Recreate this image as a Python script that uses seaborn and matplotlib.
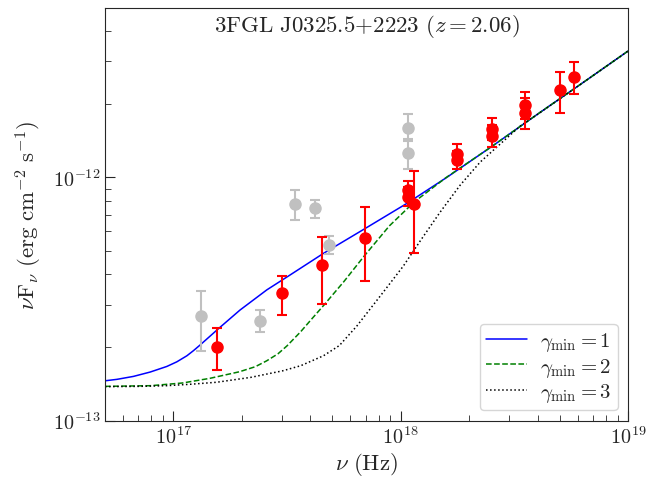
import matplotlib
matplotlib.use("Agg")
import matplotlib.pyplot as plt
from matplotlib.ticker import NullFormatter
import seaborn as sns
import numpy as np

# red points (nu in Hz, nuFnu in erg cm^-2 s^-1), with lower/upper error bar ends
red_nu = [1.56e17, 3.01e17, 4.52e17, 6.97e17, 1.08e18, 1.08e18, 1.14e18, 1.76e18, 1.76e18,
          2.51e18, 2.51e18, 3.52e18, 3.52e18, 5.02e18, 5.78e18]
red_flux = [2.01e-13, 3.34e-13, 4.36e-13, 5.63e-13, 8.89e-13, 8.32e-13, 7.75e-13, 1.255e-12, 1.178e-12,
            1.58e-12, 1.48e-12, 1.98e-12, 1.84e-12, 2.28e-12, 2.60e-12]
red_lo = [1.62e-13, 2.73e-13, 3.02e-13, 3.74e-13, 8.15e-13, 7.60e-13, 4.87e-13, 1.15e-12, 1.08e-12,
          1.43e-12, 1.33e-12, 1.74e-12, 1.59e-12, 1.85e-12, 2.21e-12]
red_hi = [2.40e-13, 3.94e-13, 5.68e-13, 7.57e-13, 9.69e-13, 9.10e-13, 1.06e-12, 1.37e-12, 1.285e-12,
          1.75e-12, 1.64e-12, 2.25e-12, 2.13e-12, 2.71e-12, 2.99e-12]

# grey points
gray_nu = [1.32e17, 2.41e17, 3.42e17, 4.21e17, 4.85e17, 1.08e18, 1.08e18]
gray_flux = [2.69e-13, 2.58e-13, 7.77e-13, 7.46e-13, 5.29e-13, 1.60e-12, 1.26e-12]
gray_lo = [1.94e-13, 2.31e-13, 6.66e-13, 6.79e-13, 4.83e-13, 1.44e-12, 1.08e-12]
gray_hi = [3.40e-13, 2.85e-13, 8.89e-13, 8.09e-13, 5.74e-13, 1.82e-12, 1.41e-12]

# model curves
nu_g1 = [5.0e16, 5.64e16, 6.67e16, 7.90e16, 9.35e16, 1.035e17, 1.146e17, 1.225e17, 1.309e17,
         1.603e17, 1.963e17, 2.576e17, 3.258e17, 4.571e17, 6.966e17, 1.062e18, 1.592e18,
         2.512e18, 3.981e18, 6.310e18, 1.0e19]
f_g1 = [1.459e-13, 1.479e-13, 1.521e-13, 1.585e-13, 1.671e-13, 1.746e-13, 1.849e-13, 1.941e-13, 2.046e-13,
        2.421e-13, 2.851e-13, 3.451e-13, 3.972e-13, 4.875e-13, 6.166e-13, 7.816e-13, 1.0e-12,
        1.340e-12, 1.816e-12, 2.449e-12, 3.311e-12]

nu_g2 = [5.0e16, 7.94e16, 1.096e17, 1.445e17, 1.950e17, 2.291e17, 2.570e17, 2.884e17, 3.162e17,
         3.631e17, 4.074e17, 4.571e17, 5.623e17, 6.918e17, 8.913e17, 1.148e18, 1.349e18, 1.585e18,
         2.512e18, 3.981e18, 6.310e18, 1.0e19]
f_g2 = [1.384e-13, 1.393e-13, 1.429e-13, 1.493e-13, 1.589e-13, 1.667e-13, 1.762e-13, 1.884e-13, 2.032e-13,
        2.323e-13, 2.630e-13, 2.972e-13, 3.733e-13, 4.764e-13, 6.324e-13, 7.943e-13, 8.913e-13, 1.0e-12,
        1.340e-12, 1.816e-12, 2.449e-12, 3.311e-12]

nu_g3 = [5.0e16, 7.08e16, 9.33e16, 1.202e17, 1.549e17, 2.188e17, 3.020e17, 3.631e17, 4.571e17,
         5.370e17, 6.407e17, 8.386e17, 1.027e18, 1.216e18, 1.489e18, 1.824e18, 2.234e18, 2.735e18,
         3.350e18, 4.102e18, 6.310e18, 1.0e19]
f_g3 = [1.380e-13, 1.384e-13, 1.393e-13, 1.413e-13, 1.439e-13, 1.507e-13, 1.603e-13, 1.683e-13, 1.849e-13,
        2.037e-13, 2.449e-13, 3.381e-13, 4.325e-13, 5.470e-13, 7.194e-13, 9.290e-13, 1.156e-12, 1.371e-12,
        1.626e-12, 1.849e-12, 2.449e-12, 3.311e-12]

x_ticks = [1e17, 1e18, 1e19]
x_ticklabels = [r'$10^{17}$', r'$10^{18}$', r'$10^{19}$']
y_ticks = [1e-13, 1e-12]
y_ticklabels = [r'$10^{-13}$', r'$10^{-12}$']

title = r'$\mathrm{3FGL\ J0325.5{+}2223\ (}z = 2.06\mathrm{)}$'

sns.set_style("ticks")
plt.rcParams['mathtext.fontset'] = 'cm'
plt.rcParams['font.family'] = ['DejaVu Serif']

fig = plt.figure(figsize=(6.51, 4.81), dpi=100)
ax = fig.add_axes([0.1613, 0.1233, 0.8034, 0.859])
ax.set_xscale('log')
ax.set_yscale('log')

sns.lineplot(x=nu_g1, y=f_g1, ax=ax, color='blue', lw=1.1, estimator=None, sort=False,
             label=r'$\gamma_{\rm min} = 1$')
sns.lineplot(x=nu_g2, y=f_g2, ax=ax, color='green', lw=1.1, estimator=None, sort=False,
             linestyle='--', label=r'$\gamma_{\rm min} = 2$')
sns.lineplot(x=nu_g3, y=f_g3, ax=ax, color='black', lw=1.1, estimator=None, sort=False,
             linestyle=':', label=r'$\gamma_{\rm min} = 3$')

gf = np.array(gray_flux)
ax.errorbar(gray_nu, gf, yerr=[gf - np.array(gray_lo), np.array(gray_hi) - gf], fmt='o',
            color='silver', ms=8, capsize=3.3, elinewidth=1.5, capthick=1.5, zorder=3)
rf = np.array(red_flux)
ax.errorbar(red_nu, rf, yerr=[rf - np.array(red_lo), np.array(red_hi) - rf], fmt='o',
            color='red', ms=8, capsize=3.3, elinewidth=1.5, capthick=1.5, zorder=4)

ax.set_xlim(5e16, 1e19)
ax.set_ylim(1e-13, 5e-12)
ax.set_xticks(x_ticks, labels=x_ticklabels)
ax.set_yticks(y_ticks, labels=y_ticklabels)
ax.xaxis.set_minor_formatter(NullFormatter())
ax.yaxis.set_minor_formatter(NullFormatter())
ax.tick_params(which='both', direction='in', labelsize=14.5, top=False, right=False)
ax.tick_params(which='major', length=7)
ax.tick_params(which='minor', length=4)
ax.set_xlabel(r'$\nu\ (\mathrm{Hz})$', fontsize=16.5, labelpad=2)
ax.set_ylabel(r'$\nu\mathrm{F}_\nu\ (\mathrm{erg\ cm^{-2}\ s^{-1}})$', fontsize=16.5, labelpad=6)
ax.text(0.5, 0.957, title, transform=ax.transAxes, ha='center', va='center', fontsize=16.5)
ax.legend(loc='lower right', fontsize=15, labelspacing=0.12, borderpad=0.3, handletextpad=0.6)

fig.savefig('out.png', dpi=100)
